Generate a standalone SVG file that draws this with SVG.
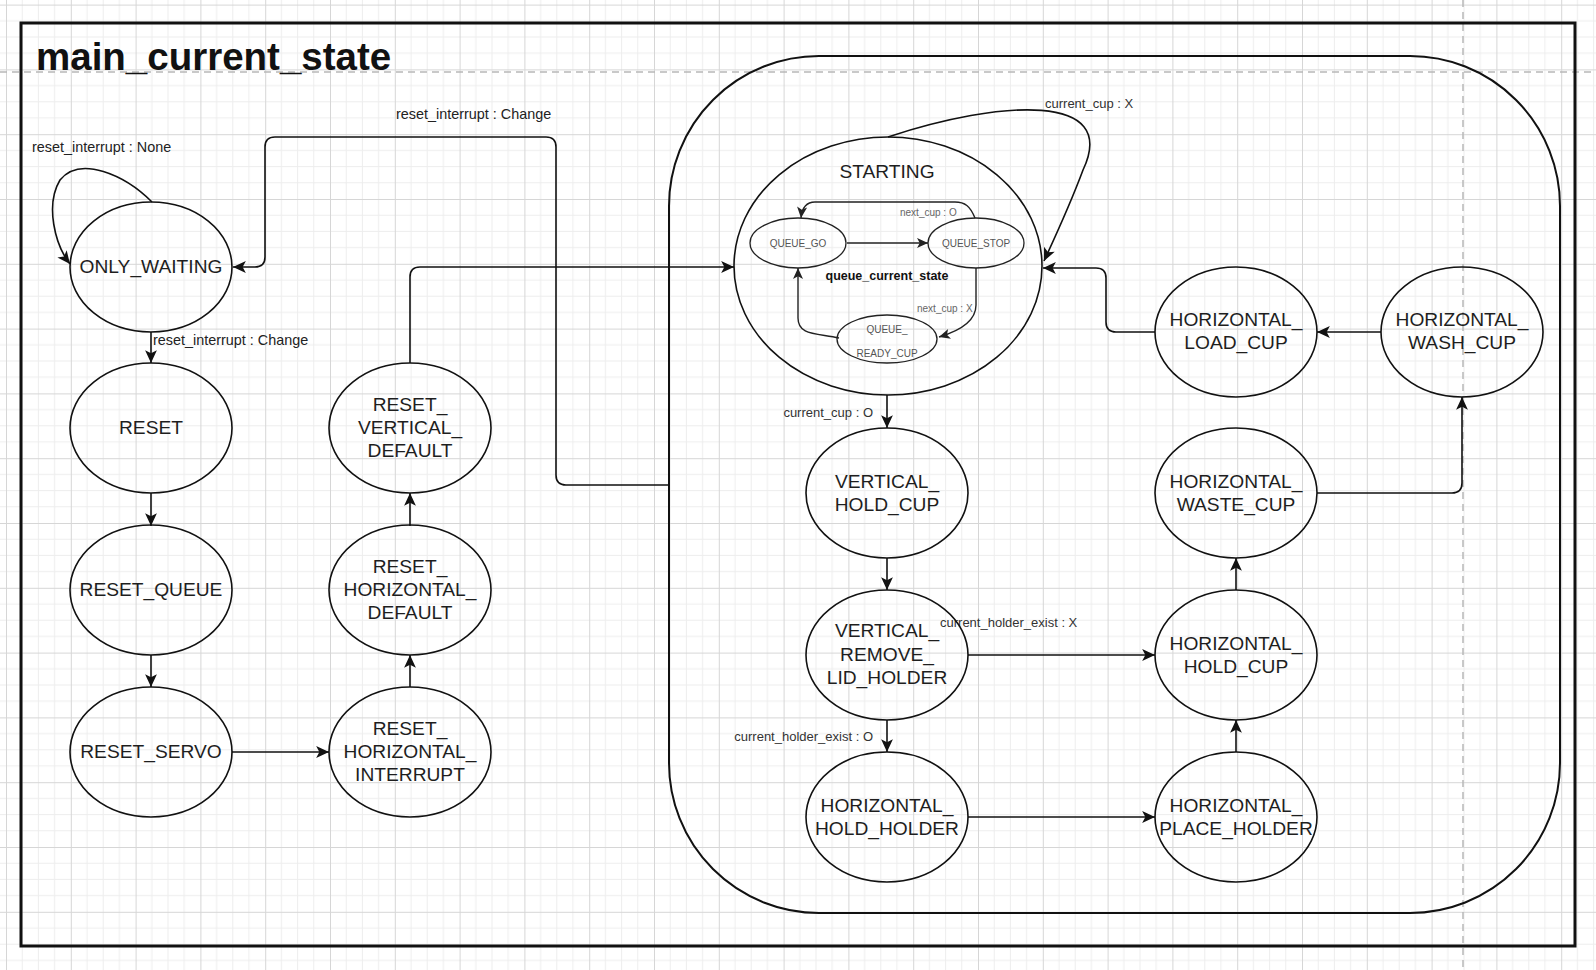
<svg xmlns="http://www.w3.org/2000/svg" width="1596" height="970" viewBox="0 0 1596 970">
<style>
.st{fill:none;stroke:#111;stroke-width:1.6}
.sm{fill:none;stroke:#222;stroke-width:1.3}
.nt{font-family:"Liberation Sans",Arial,sans-serif;font-size:19.2px;fill:#1e1e1e;text-anchor:middle}
.qt{font-family:"Liberation Sans",Arial,sans-serif;font-size:10px;fill:#555;text-anchor:middle}
.lb{font-family:"Liberation Sans",Arial,sans-serif;font-size:13px;fill:#333}
.lr{font-family:"Liberation Sans",Arial,sans-serif;font-size:14.4px;fill:#222}
.ql{font-family:"Liberation Sans",Arial,sans-serif;font-size:10px;fill:#666}
.cn{fill:none;stroke:#111;stroke-width:1.6;marker-end:url(#arr)}
.ci{fill:none;stroke:#222;stroke-width:1.4;marker-end:url(#arrs)}
</style>
<defs>
<pattern id="grid" patternUnits="userSpaceOnUse" x="6" y="4.6" width="64.8" height="64.8">
<path d="M16.2 0V64.8M32.4 0V64.8M48.6 0V64.8M0 16.2H64.8M0 32.4H64.8M0 48.6H64.8" stroke="#ededed" stroke-width="1"/>
<path d="M0.5 0V64.8M0 0.5H64.8" stroke="#d6d6d6" stroke-width="1"/>
</pattern>
<marker id="arr" markerUnits="userSpaceOnUse" markerWidth="15" markerHeight="13" viewBox="0 0 14 12" refX="13" refY="6" orient="auto">
<path d="M1,0.5 L13,6 L1,11.5 L4,6 z" fill="#111"/>
</marker>
<marker id="arrs" markerUnits="userSpaceOnUse" markerWidth="13" markerHeight="11" viewBox="0 0 14 12" refX="13" refY="6" orient="auto">
<path d="M1,0.5 L13,6 L1,11.5 L4,6 z" fill="#222"/>
</marker>
</defs>
<rect x="0" y="0" width="1596" height="970" fill="#ffffff"/>
<rect x="0" y="0" width="1596" height="970" fill="url(#grid)"/>
<g id="page-breaks" stroke="#b8b8b8" stroke-width="1.5" stroke-dasharray="7 5">
<line x1="0" y1="72" x2="1596" y2="72"/>
<line x1="1463" y1="0" x2="1463" y2="970"/>
</g>
<g id="frame">
<rect x="21" y="23" width="1554" height="923" fill="none" stroke="#111" stroke-width="3"/>
<text x="36" y="70" font-family="'Liberation Sans',Arial,sans-serif" font-size="38.5" font-weight="bold" fill="#111">main_current_state</text>
</g>
<g id="composite">
<rect x="669" y="56" width="891" height="857" rx="150" ry="150" fill="none" stroke="#111" stroke-width="2"/>
</g>
<g id="connectors">
<path class="cn" d="M152 202 C125 175 80 155 60 180 C45 205 55 245 70 264"/>
<text class="lr" x="32" y="152">reset_interrupt : None</text>
<path class="cn" d="M669 485 H566 Q556 485 556 475 V147 Q556 137 546 137 H275 Q265 137 265 147 V257 Q265 267 255 267 H233"/>
<text class="lr" x="396" y="119">reset_interrupt : Change</text>
<path class="cn" d="M151 332 V363"/>
<text class="lr" x="153" y="345">reset_interrupt : Change</text>
<path class="cn" d="M151 493 V526"/>
<path class="cn" d="M151 655 V687"/>
<path class="cn" d="M232 752 H329"/>
<path class="cn" d="M410 687 V655"/>
<path class="cn" d="M410 526 V493"/>
<path class="cn" d="M410 363 V277 Q410 267 420 267 H734"/>
<path class="cn" d="M888 137 C1000 100 1120 92 1083 170 C1070 205 1056 235 1044 261"/>
<text class="lb" x="1045" y="108">current_cup : X</text>
<path class="cn" d="M887 395 V428"/>
<text class="lb" x="873" y="417" text-anchor="end">current_cup : O</text>
<path class="cn" d="M887 558 V590"/>
<path class="cn" d="M968 655 H1155"/>
<text class="lb" x="940" y="627">current_holder_exist : X</text>
<path class="cn" d="M887 720 V752"/>
<text class="lb" x="873" y="741" text-anchor="end">current_holder_exist : O</text>
<path class="cn" d="M968 817 H1155"/>
<path class="cn" d="M1236 752 V720"/>
<path class="cn" d="M1236 590 V558"/>
<path class="cn" d="M1317 493 H1452 Q1462 493 1462 483 V397"/>
<path class="cn" d="M1381 332 H1317"/>
<path class="cn" d="M1155 332 H1116 Q1106 332 1106 322 V278 Q1106 268 1096 268 H1043"/>
<path class="ci" d="M847 243 H928"/>
<path class="ci" d="M975 218 C970 206 965 202 955 202 H815 C806 202 802 208 801 218"/>
<text class="ql" x="900" y="216">next_cup : O</text>
<path class="ci" d="M976 268 V305 Q976 326 939 337"/>
<text class="ql" x="917" y="312">next_cup : X</text>
<path class="ci" d="M839 338 C815 333 798 335 798 318 V268"/>
</g>
<g id="ONLY_WAITING"><ellipse class="st" cx="151" cy="267" rx="81" ry="65"/><text class="nt" x="151" y="273">ONLY_WAITING</text></g>
<g id="RESET"><ellipse class="st" cx="151" cy="428" rx="81" ry="65"/><text class="nt" x="151" y="434">RESET</text></g>
<g id="RESET_QUEUE"><ellipse class="st" cx="151" cy="590" rx="81" ry="65"/><text class="nt" x="151" y="596">RESET_QUEUE</text></g>
<g id="RESET_SERVO"><ellipse class="st" cx="151" cy="752" rx="81" ry="65"/><text class="nt" x="151" y="758">RESET_SERVO</text></g>
<g id="RESET_VERTICAL_DEFAULT"><ellipse class="st" cx="410" cy="428" rx="81" ry="65"/><text class="nt" x="410" y="411">RESET_</text><text class="nt" x="410" y="434">VERTICAL_</text><text class="nt" x="410" y="457">DEFAULT</text></g>
<g id="RESET_HORIZONTAL_DEFAULT"><ellipse class="st" cx="410" cy="590" rx="81" ry="65"/><text class="nt" x="410" y="573">RESET_</text><text class="nt" x="410" y="596">HORIZONTAL_</text><text class="nt" x="410" y="619">DEFAULT</text></g>
<g id="RESET_HORIZONTAL_INTERRUPT"><ellipse class="st" cx="410" cy="752" rx="81" ry="65"/><text class="nt" x="410" y="735">RESET_</text><text class="nt" x="410" y="758">HORIZONTAL_</text><text class="nt" x="410" y="781">INTERRUPT</text></g>
<g id="STARTING">
<ellipse class="st" cx="888" cy="266" rx="154" ry="129"/>
<text class="nt" x="887" y="178">STARTING</text>
<text x="887" y="280" font-family="'Liberation Sans',Arial,sans-serif" font-size="12.5" font-weight="bold" fill="#111" text-anchor="middle">queue_current_state</text>
<g id="QUEUE_GO"><ellipse class="sm" cx="798" cy="243" rx="48" ry="25"/><text class="qt" x="798" y="247">QUEUE_GO</text></g>
<g id="QUEUE_STOP"><ellipse class="sm" cx="976" cy="243" rx="48" ry="25"/><text class="qt" x="976" y="247">QUEUE_STOP</text></g>
<g id="QUEUE_READY_CUP"><ellipse class="sm" cx="887" cy="339" rx="50" ry="24"/><text class="qt" x="887" y="333">QUEUE_</text><text class="qt" x="887" y="357">READY_CUP</text></g>
</g>
<g id="VERTICAL_HOLD_CUP"><ellipse class="st" cx="887" cy="493" rx="81" ry="65"/><text class="nt" x="887" y="488">VERTICAL_</text><text class="nt" x="887" y="511">HOLD_CUP</text></g>
<g id="VERTICAL_REMOVE_LID_HOLDER"><ellipse class="st" cx="887" cy="655" rx="81" ry="65"/><text class="nt" x="887" y="637">VERTICAL_</text><text class="nt" x="887" y="661">REMOVE_</text><text class="nt" x="887" y="684">LID_HOLDER</text></g>
<g id="HORIZONTAL_HOLD_HOLDER"><ellipse class="st" cx="887" cy="817" rx="81" ry="65"/><text class="nt" x="887" y="812">HORIZONTAL_</text><text class="nt" x="887" y="835">HOLD_HOLDER</text></g>
<g id="HORIZONTAL_LOAD_CUP"><ellipse class="st" cx="1236" cy="332" rx="81" ry="65"/><text class="nt" x="1236" y="326">HORIZONTAL_</text><text class="nt" x="1236" y="349">LOAD_CUP</text></g>
<g id="HORIZONTAL_WASH_CUP"><ellipse class="st" cx="1462" cy="332" rx="81" ry="65"/><text class="nt" x="1462" y="326">HORIZONTAL_</text><text class="nt" x="1462" y="349">WASH_CUP</text></g>
<g id="HORIZONTAL_WASTE_CUP"><ellipse class="st" cx="1236" cy="493" rx="81" ry="65"/><text class="nt" x="1236" y="488">HORIZONTAL_</text><text class="nt" x="1236" y="511">WASTE_CUP</text></g>
<g id="HORIZONTAL_HOLD_CUP"><ellipse class="st" cx="1236" cy="655" rx="81" ry="65"/><text class="nt" x="1236" y="650">HORIZONTAL_</text><text class="nt" x="1236" y="673">HOLD_CUP</text></g>
<g id="HORIZONTAL_PLACE_HOLDER"><ellipse class="st" cx="1236" cy="817" rx="81" ry="65"/><text class="nt" x="1236" y="812">HORIZONTAL_</text><text class="nt" x="1236" y="835">PLACE_HOLDER</text></g>
</svg>
